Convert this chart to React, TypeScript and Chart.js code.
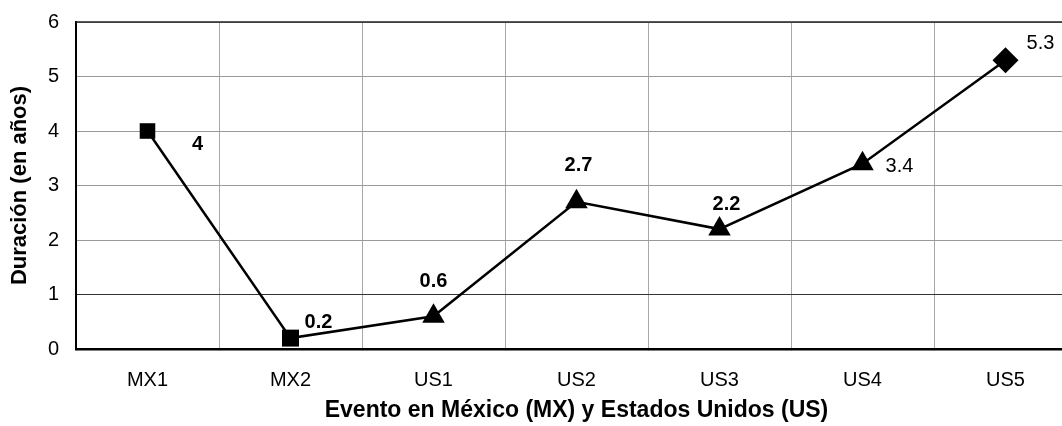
import React, { useEffect, useRef } from "react";
import { Chart, registerables } from "chart.js";

Chart.register(...registerables);

const categories = ["MX1", "MX2", "US1", "US2", "US3", "US4", "US5"];
const durations = [4, 0.2, 0.6, 2.7, 2.2, 3.4, 5.3];
const valueLabels = ["4", "0.2", "0.6", "2.7", "2.2", "3.4", "5.3"];
const yTicks = [0, 1, 2, 3, 4, 5, 6];
const markerStyles = ["rect", "rect", "triangle", "triangle", "triangle", "triangle", "rectRot"];

const FONT = "'Liberation Sans', Arial, sans-serif";

const labelOffsets = [
  [50, 13],
  [28, -16],
  [0, -35],
  [2, -36],
  [7, -25],
  [37, 3],
  [35, -17],
];
const labelBold = [true, true, true, true, true, false, false];

const labelPlugin = {
  id: "valueLabels",
  beforeDatasetsDraw(chart: any) {
    const { ctx, chartArea } = chart;
    ctx.save();
    ctx.strokeStyle = "#222";
    ctx.lineWidth = 1.5;
    ctx.beginPath();
    ctx.moveTo(chartArea.left, chartArea.top);
    ctx.lineTo(chartArea.right, chartArea.top);
    ctx.stroke();
    ctx.restore();
  },
  afterDatasetsDraw(chart: any) {
    const ctx = chart.ctx;
    const meta = chart.getDatasetMeta(0);
    ctx.save();
    ctx.fillStyle = "#000";
    ctx.textAlign = "center";
    ctx.textBaseline = "middle";
    meta.data.forEach((pt: any, i: number) => {
      const [dx, dy] = labelOffsets[i];
      ctx.font = `${labelBold[i] ? "bold " : ""}20px ${FONT}`;
      ctx.fillText(valueLabels[i], pt.x + dx, pt.y + dy);
    });
    ctx.restore();
  },
};

export default function App() {
  const ref = useRef<HTMLCanvasElement>(null);
  useEffect(() => {
    if (!ref.current) return;
    const chart = new Chart(ref.current, {
      type: "line",
      data: {
        labels: categories,
        datasets: [
          {
            data: durations,
            borderColor: "#000",
            borderWidth: 2.5,
            backgroundColor: "#000",
            pointStyle: markerStyles as any,
            pointRadius: [11, 12, 13, 13, 13, 13, 13],
            pointBackgroundColor: "#000",
            pointBorderColor: "#000",
            pointBorderWidth: 0,
            tension: 0,
          },
        ],
      },
      options: {
        responsive: false,
        animation: false,
        layout: { padding: { top: 22, right: 6, left: 0, bottom: 0 } },
        plugins: { legend: { display: false }, tooltip: { enabled: false } },
        scales: {
          x: {
            offset: true,
            afterFit: (axis: any) => {
              axis.height = 77;
              axis.paddingLeft = 0;
              axis.paddingRight = 0;
            },
            grid: {
              offset: true,
              color: "#a8a8a8",
              tickLength: 0,
              lineWidth: 1,
            },
            border: { color: "#000", width: 2.5 },
            ticks: {
              color: "#000",
              font: { family: FONT, size: 20 },
              padding: 19,
              maxRotation: 0,
            },
            title: {
              display: true,
              text: "Evento en México (MX) y Estados Unidos (US)",
              color: "#000",
              font: { family: FONT, size: 23, weight: "bold" },
              padding: { top: 0, bottom: 2 },
            },
          },
          y: {
            min: 0,
            max: 6,
            afterBuildTicks: (axis: any) => {
              axis.ticks = yTicks.map((v) => ({ value: v }));
            },
            afterFit: (axis: any) => {
              axis.width = 76;
              axis.paddingTop = 0;
              axis.paddingBottom = 0;
            },
            grid: {
              color: (c: any) => (c.tick && c.tick.value === 1 ? "#333" : "#999"),
              tickLength: 0,
            },
            border: { color: "#000", width: 2 },
            ticks: {
              color: "#000",
              font: { family: FONT, size: 20 },
              padding: 17,
            },
            title: {
              display: true,
              text: "Duración (en años)",
              color: "#000",
              font: { family: FONT, size: 22, weight: "bold" },
              padding: { top: 7, bottom: 0 },
            },
          },
        },
      },
      plugins: [labelPlugin],
    });
    return () => chart.destroy();
  }, []);
  return (
    <div
      style={{
        position: "absolute",
        left: 0,
        top: 0,
        width: 1062,
        height: 426,
        overflow: "hidden",
        background: "#fff",
      }}
    >
      <canvas ref={ref} width={1090} height={426} />
    </div>
  );
}
